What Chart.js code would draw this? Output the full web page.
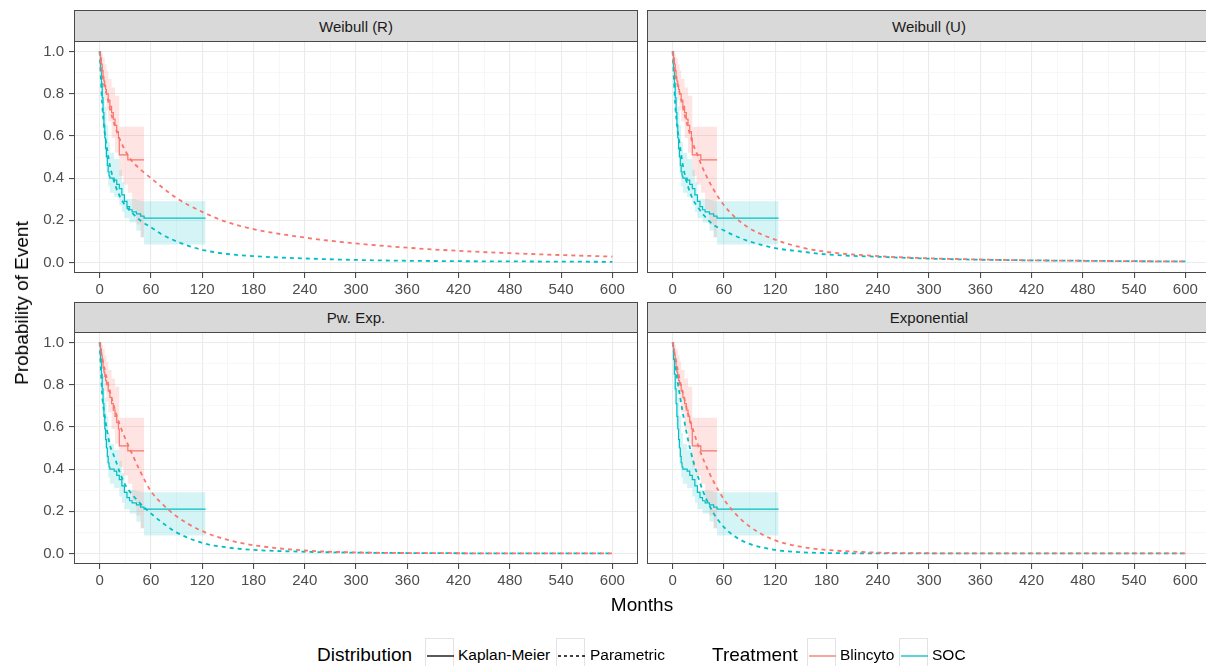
<!DOCTYPE html>
<html>
<head>
<meta charset="utf-8">
<script src="https://cdn.jsdelivr.net/npm/chart.js@4.4.0/dist/chart.umd.min.js"></script>
<style>
html,body{margin:0;padding:0;background:#fff;width:1206px;height:666px;overflow:hidden;
  font-family:"Liberation Sans",Arial,Helvetica,sans-serif;}
.cv{position:absolute;}
.strip{position:absolute;background:#D9D9D9;border:1px solid #4a4a4a;box-sizing:border-box;
  color:#1A1A1A;font-size:15px;display:flex;align-items:center;justify-content:center;}
.title{position:absolute;color:#000;font-size:19px;white-space:nowrap;}
.lg{position:absolute;white-space:nowrap;color:#000;height:24px;line-height:24px;}
.key{position:absolute;top:638px;width:29px;height:34px;border:1px solid #E3E3E3;box-sizing:border-box;background:#fff;}
.key svg{position:absolute;left:0;top:0;}
</style>
</head>
<body>
<script>
// ---------------- data ----------------
const panelTitles = ['Weibull (R)', 'Weibull (U)', 'Pw. Exp.', 'Exponential'];
const treatments = ['Blincyto', 'SOC'];
const distributions = ['Kaplan-Meier', 'Parametric'];

const xMajor = [0, 60, 120, 180, 240, 300, 360, 420, 480, 540, 600];
const xMinor = [30, 90, 150, 210, 270, 330, 390, 450, 510, 570];
const yMajor = [0, 0.2, 0.4, 0.6, 0.8, 1.0];
const yMinor = [0.1, 0.3, 0.5, 0.7, 0.9];
const yLabels = ['0.0', '0.2', '0.4', '0.6', '0.8', '1.0'];

// Kaplan-Meier curves (months, probability)
const kmBlincytoTime = [0, 1, 2, 3, 4, 5, 6, 7, 8, 10, 12, 14, 16, 18, 20, 22, 23, 33, 52];
const kmBlincytoSurv = [1, 0.97, 0.94, 0.91, 0.88, 0.86, 0.84, 0.82, 0.80, 0.77, 0.74, 0.71, 0.68, 0.65, 0.62, 0.59, 0.51, 0.486, 0.486];
const kmSocTime = [0, 1, 2, 3, 4, 5, 6, 7, 8, 9, 10, 11, 12, 17, 20, 23, 26, 29, 32, 35, 38, 43, 48, 52, 124];
const kmSocSurv = [1, 0.92, 0.85, 0.78, 0.71, 0.65, 0.59, 0.54, 0.50, 0.46, 0.43, 0.41, 0.40, 0.39, 0.37, 0.35, 0.32, 0.29, 0.265, 0.25, 0.24, 0.23, 0.22, 0.21, 0.21];

// Kaplan-Meier confidence bands
const bandBlincytoTime = [0, 2, 4, 6, 8, 10, 14, 18, 23, 28, 33, 38, 43, 48, 52];
const bandBlincytoUpper = [1, 0.99, 0.97, 0.94, 0.91, 0.87, 0.83, 0.79, 0.643, 0.643, 0.643, 0.643, 0.643, 0.643, 0.643];
const bandBlincytoLower = [1, 0.90, 0.83, 0.77, 0.72, 0.67, 0.59, 0.52, 0.41, 0.37, 0.33, 0.25, 0.18, 0.12, 0.08];
const bandSocTime = [0, 2, 4, 6, 8, 10, 12, 17, 23, 26, 29, 35, 43, 48, 52, 124];
const bandSocUpper = [1, 0.93, 0.84, 0.74, 0.65, 0.57, 0.52, 0.49, 0.44, 0.38, 0.30, 0.30, 0.295, 0.29, 0.29, 0.29];
const bandSocLower = [1, 0.77, 0.61, 0.50, 0.42, 0.36, 0.33, 0.31, 0.27, 0.24, 0.21, 0.19, 0.15, 0.12, 0.085, 0.085];

// Parametric fits (months, probability)
const parTime = [0, 3, 6, 9, 12, 18, 24, 30, 36, 48, 60, 72, 90, 120, 150, 180, 240, 300, 360, 420, 480, 540, 600];
const weibullRBlincyto = [1, 0.89, 0.83, 0.785, 0.73, 0.645, 0.58, 0.53, 0.49, 0.44, 0.40, 0.36, 0.305, 0.24, 0.19, 0.158, 0.118, 0.09, 0.07, 0.055, 0.044, 0.035, 0.028];
const weibullRSoc = [1, 0.75, 0.615, 0.53, 0.46, 0.37, 0.31, 0.27, 0.243, 0.198, 0.167, 0.135, 0.10, 0.06, 0.04, 0.03, 0.019, 0.012, 0.008, 0.006, 0.005, 0.004, 0.003];
const weibullUBlincyto = [1, 0.89, 0.84, 0.79, 0.735, 0.64, 0.56, 0.50, 0.44, 0.345, 0.272, 0.218, 0.162, 0.108, 0.072, 0.05, 0.03, 0.02, 0.014, 0.01, 0.008, 0.006, 0.005];
const weibullUSoc = [1, 0.75, 0.625, 0.54, 0.46, 0.36, 0.297, 0.26, 0.226, 0.178, 0.152, 0.128, 0.10, 0.068, 0.052, 0.038, 0.027, 0.018, 0.013, 0.01, 0.008, 0.006, 0.005];
const pwExpBlincyto = [1, 0.93, 0.87, 0.82, 0.77, 0.68, 0.605, 0.545, 0.49, 0.385, 0.295, 0.24, 0.176, 0.106, 0.064, 0.039, 0.014, 0.005, 0.002, 0.001, 0, 0, 0];
const pwExpSoc = [1, 0.75, 0.65, 0.575, 0.515, 0.45, 0.38, 0.325, 0.29, 0.235, 0.19, 0.15, 0.10, 0.05, 0.028, 0.017, 0.008, 0.004, 0.002, 0.001, 0, 0, 0];
const expBlincyto = [1, 0.935, 0.87, 0.81, 0.76, 0.665, 0.585, 0.51, 0.445, 0.34, 0.257, 0.195, 0.128, 0.062, 0.032, 0.017, 0.004, 0.001, 0, 0, 0, 0, 0];
const expSoc = [1, 0.9, 0.81, 0.735, 0.665, 0.54, 0.44, 0.36, 0.29, 0.19, 0.125, 0.083, 0.045, 0.017, 0.006, 0.002, 0.0005, 0, 0, 0, 0, 0, 0];

const axisTitleX = 'Months';
const axisTitleY = 'Probability of Event';
const legendTitleDist = 'Distribution';
const legendTitleTreat = 'Treatment';

// ---------------- style ----------------
const RED = '#F8766D', TEAL = '#00BFC4';
const FONT = '"Liberation Sans", Arial, Helvetica, sans-serif';
Chart.defaults.font.family = FONT;

const PANEL_W = 564, PANEL_H = 232, Y_AXIS_W = 74, X_AXIS_H = 40;
const layout = [
  {title: panelTitles[0], blin: weibullRBlincyto, soc: weibullRSoc, x: 74,  y: 41,  stripY: 10,  stripH: 32, yAxis: true},
  {title: panelTitles[1], blin: weibullUBlincyto, soc: weibullUSoc, x: 647, y: 41,  stripY: 10,  stripH: 32, yAxis: false},
  {title: panelTitles[2], blin: pwExpBlincyto,    soc: pwExpSoc,    x: 74,  y: 332, stripY: 302, stripH: 31, yAxis: true},
  {title: panelTitles[3], blin: expBlincyto,      soc: expSoc,      x: 647, y: 332, stripY: 302, stripH: 31, yAxis: false}
];

function pts(xs, ys) { return xs.map((x, i) => ({x: x, y: ys[i]})); }
const isIn = (arr, v) => arr.some(a => Math.abs(a - v) < 1e-6);

const panelBorder = {
  id: 'panelBorder',
  afterDraw(chart) {
    const a = chart.chartArea, ctx = chart.ctx;
    ctx.save();
    ctx.strokeStyle = '#4a4a4a';
    ctx.lineWidth = 1;
    ctx.strokeRect(Math.round(a.left) + 0.5, Math.round(a.top) + 0.5,
                   Math.round(a.right - a.left) - 1, Math.round(a.bottom - a.top) - 1);
    ctx.restore();
  }
};

function buildPanel(p) {
  const strip = document.createElement('div');
  strip.className = 'strip';
  strip.style.left = p.x + 'px';
  strip.style.top = p.stripY + 'px';
  strip.style.width = PANEL_W + 'px';
  strip.style.height = p.stripH + 'px';
  strip.textContent = p.title;

  const yw = p.yAxis ? Y_AXIS_W : 0;
  const cv = document.createElement('canvas');
  cv.className = 'cv';
  cv.width = PANEL_W + yw;
  cv.height = PANEL_H + X_AXIS_H;
  cv.style.left = (p.x - yw) + 'px';
  cv.style.top = p.y + 'px';
  document.body.appendChild(cv);
  document.body.appendChild(strip);

  const datasets = [
    {data: pts(parTime, p.blin), borderColor: RED, borderWidth: 1.8, borderDash: [4, 4],
     cubicInterpolationMode: 'monotone', pointRadius: 0, fill: false, order: 1},
    {data: pts(parTime, p.soc), borderColor: TEAL, borderWidth: 1.8, borderDash: [4, 4],
     cubicInterpolationMode: 'monotone', pointRadius: 0, fill: false, order: 1},
    {data: pts(kmBlincytoTime, kmBlincytoSurv), borderColor: RED, borderWidth: 1.2, stepped: true,
     pointRadius: 0, fill: false, order: 5},
    {data: pts(kmSocTime, kmSocSurv), borderColor: TEAL, borderWidth: 1.2, stepped: true,
     pointRadius: 0, fill: false, order: 5},
    {data: pts(bandBlincytoTime, bandBlincytoUpper), borderWidth: 0, borderColor: 'rgba(0,0,0,0)', stepped: true,
     pointRadius: 0, fill: false, order: 10},
    {data: pts(bandBlincytoTime, bandBlincytoLower), borderWidth: 0, borderColor: 'rgba(0,0,0,0)', stepped: true,
     pointRadius: 0, fill: '-1', backgroundColor: 'rgba(248,118,109,0.19)', order: 10},
    {data: pts(bandSocTime, bandSocUpper), borderWidth: 0, borderColor: 'rgba(0,0,0,0)', stepped: true,
     pointRadius: 0, fill: false, order: 11},
    {data: pts(bandSocTime, bandSocLower), borderWidth: 0, borderColor: 'rgba(0,0,0,0)', stepped: true,
     pointRadius: 0, fill: '-1', backgroundColor: 'rgba(0,191,196,0.17)', order: 11}
  ];

  new Chart(cv, {
    type: 'line',
    data: {datasets: datasets},
    plugins: [panelBorder],
    options: {
      responsive: false, animation: false, events: [],
      layout: {padding: 0},
      plugins: {legend: {display: false}, tooltip: {enabled: false}},
      scales: {
        x: {
          type: 'linear', min: -30, max: 630,
          afterBuildTicks: s => { s.ticks = xMajor.concat(xMinor).sort((a, b) => a - b).map(v => ({value: v})); },
          afterFit: s => { s.height = X_AXIS_H; s.paddingLeft = 0; s.paddingRight = 0; },
          border: {display: false},
          grid: {
            color: c => isIn(xMajor, c.tick.value) ? '#EBEBEB' : '#F3F3F3',
            lineWidth: c => isIn(xMajor, c.tick.value) ? 1.1 : 0.7,
            tickColor: c => isIn(xMajor, c.tick.value) ? '#4a4a4a' : 'rgba(0,0,0,0)',
            tickLength: 5, drawTicks: true
          },
          ticks: {
            autoSkip: false, maxRotation: 0, padding: 3, color: '#4D4D4D',
            font: {size: 15, family: FONT},
            callback: v => isIn(xMajor, v) ? String(xMajor[xMajor.findIndex(a => Math.abs(a - v) < 1e-6)]) : ''
          }
        },
        y: {
          type: 'linear', min: -0.05, max: 1.05,
          afterBuildTicks: s => { s.ticks = yMajor.concat(yMinor).sort((a, b) => a - b).map(v => ({value: v})); },
          afterFit: s => { s.width = yw; s.paddingTop = 0; s.paddingBottom = 0; },
          border: {display: false},
          grid: {
            color: c => isIn(yMajor, c.tick.value) ? '#EBEBEB' : '#F3F3F3',
            lineWidth: c => isIn(yMajor, c.tick.value) ? 1.1 : 0.7,
            tickColor: c => isIn(yMajor, c.tick.value) ? '#4a4a4a' : 'rgba(0,0,0,0)',
            tickLength: p.yAxis ? 5 : 0, drawTicks: p.yAxis
          },
          ticks: {
            display: p.yAxis, autoSkip: false, padding: 5, color: '#4D4D4D',
            font: {size: 15, family: FONT},
            callback: v => { const i = yMajor.findIndex(a => Math.abs(a - v) < 1e-6); return i >= 0 ? yLabels[i] : ''; }
          }
        }
      }
    }
  });
}

layout.forEach(buildPanel);

// ---------------- titles & legend (HTML text) ----------------
function addText(cls, txt, css) {
  const d = document.createElement('div');
  d.className = cls;
  d.textContent = txt;
  Object.assign(d.style, css);
  document.body.appendChild(d);
  return d;
}
addText('title', axisTitleY, {left: '22px', top: '303px', transform: 'translate(-50%,-50%) rotate(-90deg)'});
addText('title', axisTitleX, {left: '642px', top: '605px', transform: 'translate(-50%,-50%)'});

function addKey(left, color, dashed) {
  const k = document.createElement('div');
  k.className = 'key';
  k.style.left = left + 'px';
  k.innerHTML = '<svg width="29" height="34"><line x1="1" y1="17" x2="28" y2="17" stroke="' + color +
    '" stroke-width="' + (dashed ? 1.6 : 1.3) + '"' + (dashed ? ' stroke-dasharray="3,3"' : '') + '/></svg>';
  document.body.appendChild(k);
}
addText('lg', legendTitleDist, {left: '317px', top: '643px', fontSize: '19px'});
addKey(425, '#000', false);
addText('lg', distributions[0], {left: '458px', top: '643px', fontSize: '15.5px'});
addKey(556, '#000', true);
addText('lg', distributions[1], {left: '590px', top: '643px', fontSize: '15.5px'});
addText('lg', legendTitleTreat, {left: '712px', top: '643px', fontSize: '19px'});
addKey(807, RED, false);
addText('lg', treatments[0], {left: '840px', top: '643px', fontSize: '15.5px'});
addKey(899, TEAL, false);
addText('lg', treatments[1], {left: '932px', top: '643px', fontSize: '15.5px'});
</script>
</body>
</html>
